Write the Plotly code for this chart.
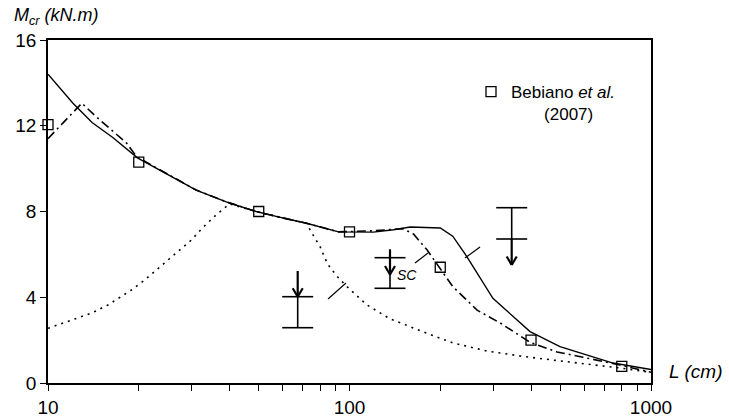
import plotly.graph_objects as go

# ---- data ----
L_solid = [10, 12.1, 14, 16.4, 19.8, 25.9, 31, 39, 49, 58, 72, 92, 120, 140, 159, 200, 220, 245, 299, 397, 499, 748, 1000]
M_solid = [14.4, 13.05, 12.15, 11.45, 10.5, 9.6, 9.0, 8.45, 8.0, 7.75, 7.45, 7.05, 7.04, 7.15, 7.28, 7.23, 6.85, 5.9, 3.95, 2.4, 1.7, 0.93, 0.63]

L_dd = [10, 12.95, 14.5, 18.2, 19.7, 25.9, 31, 39, 49, 58, 72, 92, 120, 150, 163, 181, 200, 220, 265, 316, 397, 488, 595, 789, 1000]
M_dd = [11.4, 13.05, 12.4, 11.2, 10.55, 9.6, 9.0, 8.45, 8.0, 7.75, 7.45, 7.05, 7.1, 7.2, 6.95, 6.2, 5.35, 4.5, 3.4, 2.8, 1.9, 1.45, 1.2, 0.84, 0.5]

L_dot = [10, 12.3, 14, 15.8, 18.7, 20.9, 24.3, 26.9, 29.9, 32.5, 36.1, 40, 49, 58, 72, 75, 80, 83, 86, 92, 98, 114, 136, 171, 220, 286, 368, 473, 614, 789, 1000]
M_dot = [2.55, 3.0, 3.27, 3.64, 4.29, 4.8, 5.6, 6.1, 6.67, 7.23, 7.84, 8.35, 8.0, 7.75, 7.45, 7.0, 6.34, 5.8, 5.4, 4.9, 4.5, 3.65, 3.0, 2.45, 1.87, 1.49, 1.26, 1.07, 0.89, 0.70, 0.5]

L_beb = [10, 20, 50, 100, 200, 400, 800]
M_beb = [12.05, 10.3, 8.0, 7.05, 5.4, 2.0, 0.78]

x_tickvals = [10, 20, 30, 40, 50, 60, 70, 80, 90, 100, 200, 300, 400, 500, 600, 700, 800, 900, 1000]
x_ticktext = ["10", "", "", "", "", "", "", "", "", "100", "", "", "", "", "", "", "", "", "1000"]
y_tickvals = [0, 4, 8, 12, 16]

FONT = "Liberation Sans, Arial, sans-serif"
W, H = 729, 419
ML, MR, MT, MB = 48, 78, 40, 36
PW, PH = W - ML - MR, H - MT - MB


def px2paper(px, py):
    return (px - ML) / PW, (H - MB - py) / PH


fig = go.Figure()
fig.add_trace(go.Scatter(x=L_solid, y=M_solid, mode="lines", showlegend=False,
                         line=dict(color="black", width=1.4)))
fig.add_trace(go.Scatter(x=L_dd, y=M_dd, mode="lines", showlegend=False,
                         line=dict(color="black", width=1.6, dash="9px,4px,2px,4px")))
fig.add_trace(go.Scatter(x=L_dot, y=M_dot, mode="lines", showlegend=False,
                         line=dict(color="black", width=1.6, dash="2px,5px")))
fig.add_trace(go.Scatter(x=L_beb, y=M_beb, mode="markers", cliponaxis=False,
                         name="Bebiano <i>et al.</i><br>&nbsp;&nbsp;&nbsp;&nbsp;&nbsp;&nbsp;&nbsp;(2007)",
                         marker=dict(symbol="square-open", size=10, color="black",
                                     line=dict(width=1.3, color="black"))))

shapes = []


def seg(p0, p1, w=1.5):
    x0, y0 = px2paper(*p0)
    x1, y1 = px2paper(*p1)
    shapes.append(dict(type="line", xref="paper", yref="paper", x0=x0, y0=y0, x1=x1, y1=y1,
                       line=dict(color="black", width=w)))


def ibeam(xc, ytop, ybot, half, arrow_from, arrow_to):
    seg((xc - half, ytop), (xc + half, ytop), 1.6)
    seg((xc - half, ybot), (xc + half, ybot), 1.6)
    seg((xc, ytop), (xc, ybot), 1.6)
    seg((xc, arrow_from), (xc, arrow_to), 2.2)
    d = 1 if arrow_to > arrow_from else -1
    seg((xc - 5, arrow_to - d * 8.5), (xc, arrow_to), 2.2)
    seg((xc + 5, arrow_to - d * 8.5), (xc, arrow_to), 2.2)


# section symbols (load at top flange, shear centre, bottom flange)
ibeam(297.7, 296.7, 327.7, 15.5, 271, 296.7)
ibeam(390, 257.7, 288.3, 15.5, 249.3, 274.5)
ibeam(511.7, 207.7, 239, 15.5, 239, 265)
# leader lines
seg((328, 299), (346, 283), 1.2)
seg((415, 263), (428, 253), 1.2)
seg((465, 258), (480, 247), 1.2)

annotations = [
    dict(xref="paper", yref="paper", x=0, y=1, xanchor="left", yanchor="bottom",
         xshift=-36, yshift=10, showarrow=False,
         text="<i>M<sub>cr</sub> (kN.m)</i>", font=dict(family=FONT, size=18, color="black")),
    dict(xref="paper", yref="paper", x=1, y=0, xanchor="left", yanchor="middle",
         xshift=16, yshift=12, showarrow=False,
         text="<i>L (cm)</i>", font=dict(family=FONT, size=19, color="black")),
    dict(xref="paper", yref="paper", x=px2paper(395, 275)[0], y=px2paper(395, 275)[1],
         xanchor="left", yanchor="middle", showarrow=False,
         text="<i>SC</i>", font=dict(family=FONT, size=14, color="black")),
]

fig.update_layout(
    width=W, height=H,
    margin=dict(l=ML, r=MR, t=MT, b=MB, autoexpand=False),
    paper_bgcolor="white", plot_bgcolor="white",
    font=dict(family=FONT, size=19, color="black"),
    shapes=shapes, annotations=annotations,
    showlegend=True,
    legend=dict(x=px2paper(471, 0)[0], y=px2paper(0, 74)[1], xanchor="left", yanchor="top",
                bgcolor="rgba(0,0,0,0)", font=dict(family=FONT, size=17, color="black"),
                valign="top", tracegroupgap=0),
    xaxis=dict(type="log", range=[1, 3], showgrid=False, zeroline=False, automargin=False,
               showline=True, linecolor="black", linewidth=1.5, mirror=True,
               ticks="outside", ticklen=6, tickwidth=1.3, tickcolor="black",
               tickvals=x_tickvals, ticktext=x_ticktext,
               tickfont=dict(family=FONT, size=19, color="black")),
    yaxis=dict(range=[0, 16], showgrid=False, zeroline=False, automargin=False,
               showline=True, linecolor="black", linewidth=1.5, mirror=True,
               ticks="outside", ticklen=6, tickwidth=1.3, tickcolor="black",
               tickvals=y_tickvals,
               tickfont=dict(family=FONT, size=19, color="black")),
)

fig.write_html("out.html", config={"displayModeBar": False},
               post_script="document.body.style.margin='0';")
